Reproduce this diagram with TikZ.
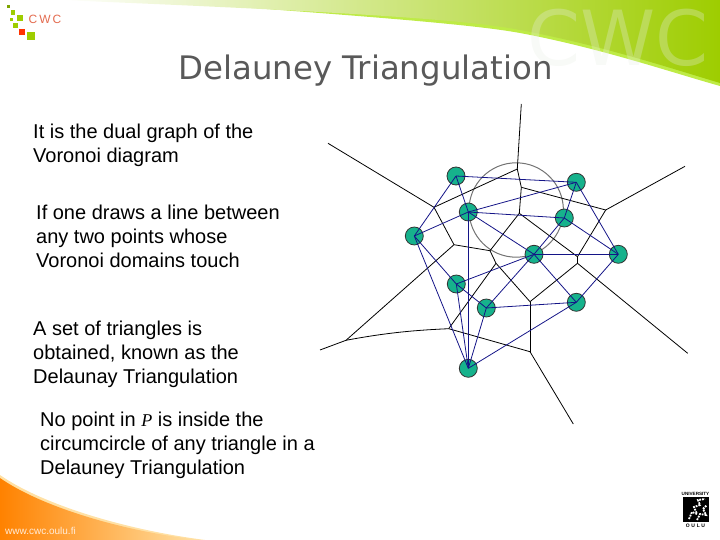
\documentclass[tikz,border=0pt]{standalone}
\usepackage{fontspec}
\setmainfont{Liberation Sans}
\newfontfamily\titlefont{DejaVu Sans}
\newfontfamily\symbolfont{Liberation Serif}
\usepackage{tikz}
\definecolor{bandgreen}{RGB}{158,205,0}
\definecolor{bandmid}{RGB}{205,228,110}
\definecolor{edgegreen}{RGB}{190,235,70}
\definecolor{sitefill}{RGB}{22,178,140}
\definecolor{dualblue}{RGB}{20,20,135}
\definecolor{swooshorange}{RGB}{255,130,0}
\definecolor{swooshmid}{RGB}{255,178,60}
\definecolor{swooshpale}{RGB}{255,225,165}
\definecolor{markgrey}{RGB}{232,238,228}

\begin{document}
\begin{tikzpicture}[
x=1pt, y=-1pt,
sitenode/.style={circle, draw=black!80, fill=sitefill, thick, inner sep=0pt, minimum size=18pt},
textnode/.style={anchor=north west, align=left, inner sep=0pt, font=\fontsize{20}{24}\selectfont},
dualline/.style={draw=dualblue, line width=0.8pt},
cellline/.style={draw=black, line width=0.8pt},
]
\useasboundingbox (0,0) rectangle (720,540);

% background
\fill[edgegreen] (150,0) .. controls (300,12) and (460,22) .. (520,33) .. controls (600,48) and (670,72) .. (720,86) -- (720,0) -- cycle;
\shade[left color=white, middle color=bandmid, right color=bandgreen] (60,0) .. controls (300,10) and (460,18) .. (520,30) .. controls (600,45) and (670,68) .. (720,83) -- (720,0) -- cycle;
\fill[swooshpale] (0,475) .. controls (40,503) and (120,529) .. (205,540) -- (0,540) -- cycle;
\shade[left color=swooshorange, middle color=swooshmid, right color=swooshpale] (0,478) .. controls (40,506) and (120,531) .. (200,540) -- (0,540) -- cycle;
\node[text=markgrey, opacity=0.3, font=\titlefont\fontsize{76}{76}\selectfont] (watermark) at (618,38) {CWC};

% logo
\fill[bandgreen!80!black] (7,5.5) rectangle (10,8.5);
\fill[bandgreen] (10.5,10) rectangle (15,15);
\fill[bandgreen] (17,15) rectangle (23,21);
\fill[bandgreen] (9.5,18.5) rectangle (12.5,21.5);
\fill[bandgreen] (12.5,23.5) rectangle (17.5,28.5);
\fill[red!60!orange] (19,29) rectangle (25,35);
\fill[bandgreen] (27,32) rectangle (35,40);
\node[text=red!45!brown!80, font=\fontsize{12}{12}\selectfont, inner sep=0pt] (logotext) at (45,19) {C\,W\,C};
\node[text=white!85!orange, font=\fontsize{10}{10}\selectfont, inner sep=0pt, anchor=west] (weblabel) at (5,531) {www.cwc.oulu.fi};

% university mark
\node[font=\bfseries\fontsize{4.6}{5}\selectfont, inner sep=0pt] (unitext) at (695.5,493.5) {UNIVERSITY};
\fill[black] (683,497) rectangle (708.5,522);
\draw[white, line width=1.8pt, densely dotted] (689,519) -- (692,512) -- (697,514) -- (694,507) -- (700,505) -- (698,500) -- (705,499);
\draw[white, line width=1.8pt, densely dotted] (697,520) -- (700,514) -- (706,515) -- (703,509) -- (707,505);
\node[font=\bfseries\fontsize{5}{5}\selectfont, inner sep=0pt] (ouluname) at (695.5,526) {O\,\,U\,\,L\,\,U};

\node[text=black!65, font=\titlefont\fontsize{32.4}{36}\selectfont, inner sep=0pt] (title) at (365.5,71) {Delauney Triangulation};

\node[textnode] (dualtext) at (33,124) {It is the dual graph of the\\Voronoi diagram};
\node[textnode] (linetext) at (36,205) {If one draws a line between\\any two points whose\\Voronoi domains touch};
\node[textnode] (triangletext) at (33,321) {A set of triangles is\\obtained, known as the\\Delaunay Triangulation};
\node[textnode] (circletext) at (40,412) {No point in {\symbolfont\itshape\fontsize{18}{24}\selectfont P} is inside the\\circumcircle of any triangle in a\\Delauney Triangulation};

% circumcircle
\coordinate (circlecenter) at (516.2,210);
\draw[black!55, line width=1pt] (circlecenter) circle (47.2);

% voronoi vertices
\coordinate (farnorth) at (521.3,104);
\coordinate (farwest) at (328,143.3);
\coordinate (fareast) at (685,166.3);
\coordinate (farsoutheast) at (687.7,353.3);
\coordinate (farsouth) at (573.3,424);
\coordinate (farsouthwest) at (320,350);
\coordinate (v1) at (517.3,169);
\coordinate (v2) at (434,207.3);
\coordinate (v3) at (521.3,187.3);
\coordinate (v4) at (519.3,213.3);
\coordinate (v5) at (605.7,210);
\coordinate (v6) at (454,244.7);
\coordinate (v7) at (490,250.7);
\coordinate (v8) at (496,263.3);
\coordinate (v9) at (577.5,256.7);
\coordinate (v10) at (577.5,263.3);
\coordinate (v11) at (530,301.7);
\coordinate (v12) at (448.7,328.7);
\coordinate (v13) at (530,351.7);
\coordinate (v14) at (346,340.3);

% voronoi cells
\draw[cellline] (farnorth) -- (v1) -- (v3) -- (v4) -- (v7) -- (v8) -- (v12);
\draw[cellline] (farwest) -- (v2) -- (v1);
\draw[cellline] (v2) -- (v6) -- (v7);
\draw[cellline] (v6) -- (v14) -- (farsouthwest);
\draw[cellline] (v14) .. controls (390,332) and (420,330) .. (v12) -- (v13);
\draw[cellline] (v13) -- (v11);
\draw[cellline] (v3) -- (v5) -- (fareast);
\draw[cellline] (v5) -- (v9) -- (v10) -- (farsoutheast);
\draw[cellline] (v4) -- (v9);
\draw[cellline] (v8) -- (v11) -- (v10);
\draw[cellline] (v13) -- (farsouth);

% sites
\node[sitenode] (a) at (456,176) {};
\node[sitenode] (b) at (576.3,182.3) {};
\node[sitenode] (c) at (468.3,212) {};
\node[sitenode] (d) at (564.3,218) {};
\node[sitenode] (e) at (414.3,236) {};
\node[sitenode] (f) at (534,254.3) {};
\node[sitenode] (g) at (618.3,254.3) {};
\node[sitenode] (h) at (456.3,284) {};
\node[sitenode] (i) at (486.3,308) {};
\node[sitenode] (j) at (576.3,302.3) {};
\node[sitenode] (k) at (468.3,368.3) {};

% dual graph
\draw[dualline] (a.center) -- (b.center);
\draw[dualline] (a.center) -- (c.center);
\draw[dualline] (a.center) -- (e.center);
\draw[dualline] (c.center) -- (b.center);
\draw[dualline] (c.center) -- (d.center);
\draw[dualline] (c.center) -- (e.center);
\draw[dualline] (c.center) -- (f.center);
\draw[dualline] (c.center) -- (k.center);
\draw[dualline] (b.center) -- (d.center);
\draw[dualline] (b.center) -- (g.center);
\draw[dualline] (d.center) -- (f.center);
\draw[dualline] (d.center) -- (g.center);
\draw[dualline] (f.center) -- (g.center);
\draw[dualline] (e.center) -- (h.center);
\draw[dualline] (e.center) -- (k.center);
\draw[dualline] (h.center) -- (f.center);
\draw[dualline] (h.center) -- (i.center);
\draw[dualline] (h.center) -- (k.center);
\draw[dualline] (i.center) -- (f.center);
\draw[dualline] (i.center) -- (j.center);
\draw[dualline] (i.center) -- (k.center);
\draw[dualline] (f.center) -- (j.center);
\draw[dualline] (j.center) -- (g.center);
\draw[dualline] (j.center) -- (k.center);

\end{tikzpicture}
\end{document}
